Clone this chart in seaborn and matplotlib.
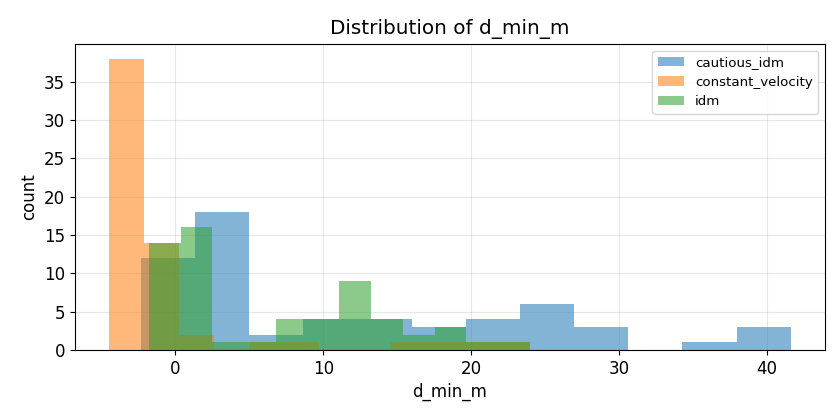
import numpy as np
import pandas as pd
import seaborn as sns
import matplotlib
matplotlib.use("Agg")
import matplotlib.pyplot as plt

groups = ["cautious_idm", "constant_velocity", "idm"]

# bin ranges (data units) and counts
cautious_range = (-2.33, 41.6)
cautious_counts = [12, 18, 2, 4, 4, 3, 4, 6, 3, 0, 1, 3]

constant_range = (-4.50, 23.97)
constant_counts = [38, 14, 2, 0, 1, 1, 0, 0, 1, 1, 1, 1]

idm_range = (-1.79, 23.97)
idm_counts = [14, 16, 1, 1, 4, 4, 9, 4, 2, 3, 1, 1]

series = {
    "cautious_idm": (cautious_range, cautious_counts),
    "constant_velocity": (constant_range, constant_counts),
    "idm": (idm_range, idm_counts),
}

colors = sns.color_palette("tab10")[:3]

fig, ax = plt.subplots(figsize=(8.4, 4.2), dpi=100)

for name, color in zip(groups, colors):
    (lo, hi), counts = series[name]
    n = len(counts)
    edges = np.linspace(lo, hi, n + 1)
    centers = (edges[:-1] + edges[1:]) / 2
    df = pd.DataFrame({"d_min_m": centers, "w": counts})
    sns.histplot(data=df, x="d_min_m", weights="w", bins=n, binrange=(lo, hi),
                 ax=ax, color=color, alpha=0.55, linewidth=0, edgecolor="none",
                 label=name, stat="count")

ax.set_title("Distribution of d_min_m", fontsize=14.4, pad=7)
ax.set_xlabel("d_min_m", fontsize=12)
ax.set_ylabel("count", fontsize=12)
ax.tick_params(labelsize=12)
ax.grid(True, alpha=0.3)
ax.set_axisbelow(True)
ax.legend(fontsize=9.6, loc="upper right")

fig.subplots_adjust(left=0.089, right=0.982, top=0.895, bottom=0.167)
fig.savefig("out.png", dpi=100)
